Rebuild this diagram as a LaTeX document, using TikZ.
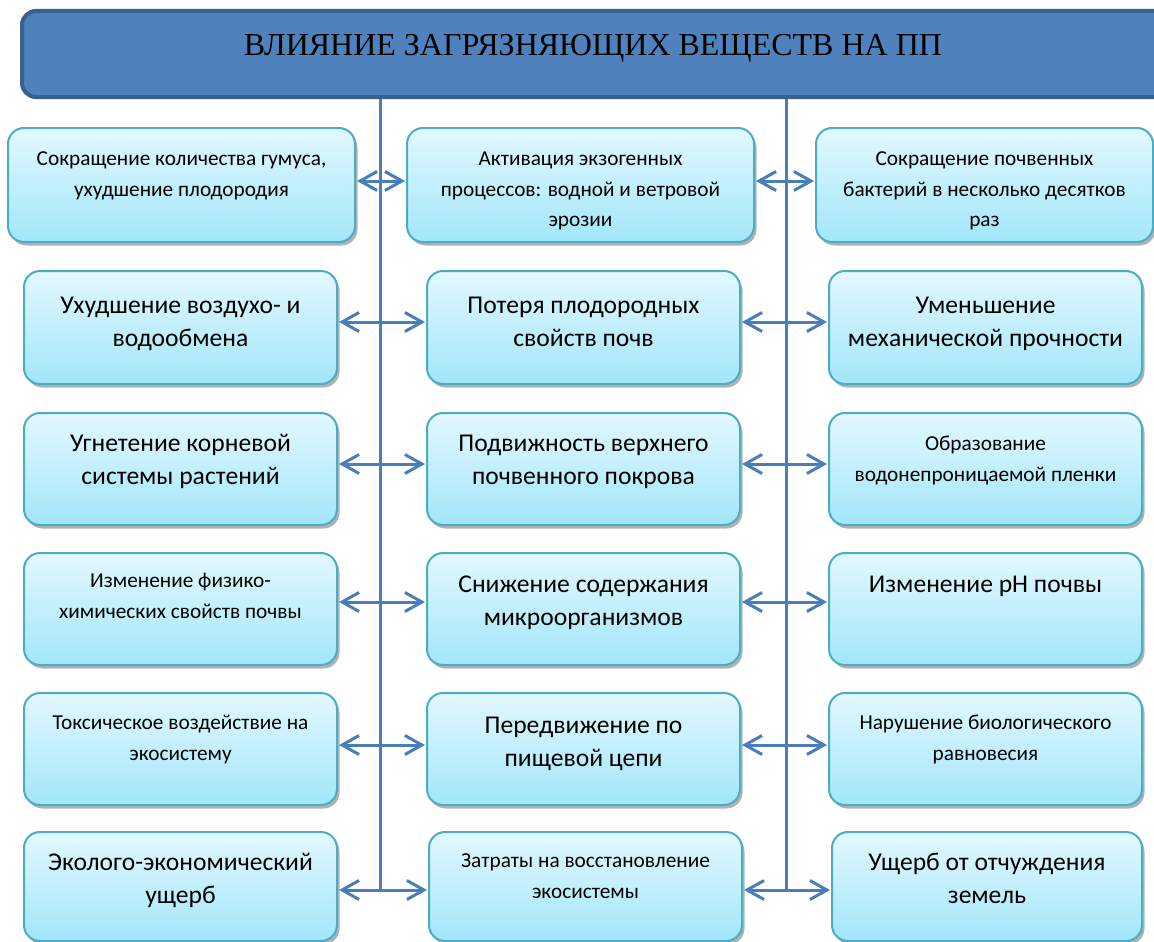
\documentclass[tikz,border=0pt]{standalone}
\usepackage{fontspec}
\setmainfont{Liberation Serif}
\newfontfamily\bodyfont{Carlito}
\usetikzlibrary{arrows.meta,calc}
\definecolor{linkblue}{HTML}{4A7EBB}
\definecolor{boxedge}{HTML}{4BACC6}
\definecolor{boxtop}{HTML}{E3F8FE}
\definecolor{boxbot}{HTML}{A2E6FA}
\definecolor{titlefill}{HTML}{4F81BD}
\definecolor{titleedge}{HTML}{3A6090}
\tikzset{
 pbox/.style={rectangle, rounded corners=16pt, draw=boxedge, line width=2pt, top color=boxtop, bottom color=boxbot, inner sep=0pt, outer sep=0pt},
 big/.style={font=\bodyfont\fontsize{25.6}{33}\selectfont, align=center, anchor=north, inner sep=0pt},
 small/.style={font=\bodyfont\fontsize{21.3}{30.5}\selectfont, align=center, anchor=north, inner sep=0pt},
 link/.style={draw=linkblue, line width=3pt},
 dbl/.style={link, shorten <=2pt, shorten >=2pt, {Straight Barb[length=17pt,width=19pt,line width=3pt]}-{Straight Barb[length=17pt,width=19pt,line width=3pt]}}
}
\newcommand\mkbox[8]{%
 \fill[black!30, rounded corners=16pt] (#2+2.5,#3+3.5) rectangle (#4+2.5,#5+3.5);
 \node[pbox, minimum width={#4-#2}, minimum height={#5-#3}] (#1) at ({(#2+#4)/2},{(#3+#5)/2}) {};
 \node[#6] (#1-t) at ([yshift={18-#7}]#1.north) {\strut #8};
}
\begin{document}
\begin{tikzpicture}[x=1pt,y=-1pt]
\useasboundingbox (0,0) rectangle (1154,942);
% title
\node[rectangle, rounded corners=14pt, fill=titlefill, draw=titleedge, line width=4pt, minimum width=1160, minimum height=86, inner sep=0pt] (title) at (602,54) {};
\node[font=\rmfamily\fontsize{32}{36}\selectfont, inner sep=0pt] (titletext) at (593,48) {ВЛИЯНИЕ ЗАГРЯЗНЯЮЩИХ ВЕЩЕСТВ НА ПП};
% row 1
\mkbox{L1}{8}{128}{355}{242}{small}{34}{Сокращение количества гумуса,\\ухудшение плодородия}
\mkbox{M1}{407}{128}{754}{242}{small}{34}{Активация экзогенных\\процессов: водной и ветровой\\эрозии}
\mkbox{R1}{816}{128}{1153}{242}{small}{34}{Сокращение почвенных\\бактерий в несколько десятков\\раз}
% row 2
\mkbox{L2}{24}{271}{337}{384}{big}{37}{Ухудшение воздухо- и\\водообмена}
\mkbox{M2}{427}{271}{740}{384}{big}{37}{Потеря плодородных\\свойств почв}
\mkbox{R2}{829}{271}{1142}{384}{big}{37}{Уменьшение\\механической прочности}
% row 3
\mkbox{L3}{24}{413}{337}{525}{big}{33}{Угнетение корневой\\системы растений}
\mkbox{M3}{427}{413}{740}{525}{big}{33}{Подвижность верхнего\\почвенного покрова}
\mkbox{R3}{829}{413}{1142}{525}{small}{34}{Образование\\водонепроницаемой пленки}
% row 4
\mkbox{L4}{24}{553}{337}{665}{small}{31}{Изменение физико-\\химических свойств почвы}
\mkbox{M4}{427}{553}{740}{665}{big}{34}{Снижение содержания\\микроорганизмов}
\mkbox{R4}{829}{553}{1142}{665}{big}{34}{Изменение рН почвы}
% row 5
\mkbox{L5}{24}{693}{337}{805}{small}{33}{Токсическое воздействие на\\экосистему}
\mkbox{M5}{427}{693}{740}{805}{big}{35}{Передвижение по\\пищевой цепи}
\mkbox{R5}{829}{693}{1142}{805}{small}{33}{Нарушение биологического\\равновесия}
% row 6
\mkbox{L6}{24}{832}{337}{941}{big}{33}{Эколого-экономический\\ущерб}
\mkbox{M6}{429}{832}{742}{941}{small}{32}{Затраты на восстановление\\экосистемы}
\mkbox{R6}{832}{832}{1142}{941}{big}{33}{Ущерб от отчуждения\\земель}
% trunk lines
\coordinate (j1) at (380,890);
\coordinate (j2) at (786,891);
\draw[link] (title.south -| j1) -- (j1);
\draw[link] (title.south -| j2) -- (j2);
% arrows
\foreach \r/\y in {1/181,2/322,3/464,4/602,5/745,6/890}{
 \draw[dbl] (L\r.east |- 0,\y) -- (M\r.west |- 0,\y);
 \draw[dbl] (M\r.east |- 0,\y) -- (R\r.west |- 0,\y);
}
\end{tikzpicture}
\end{document}
